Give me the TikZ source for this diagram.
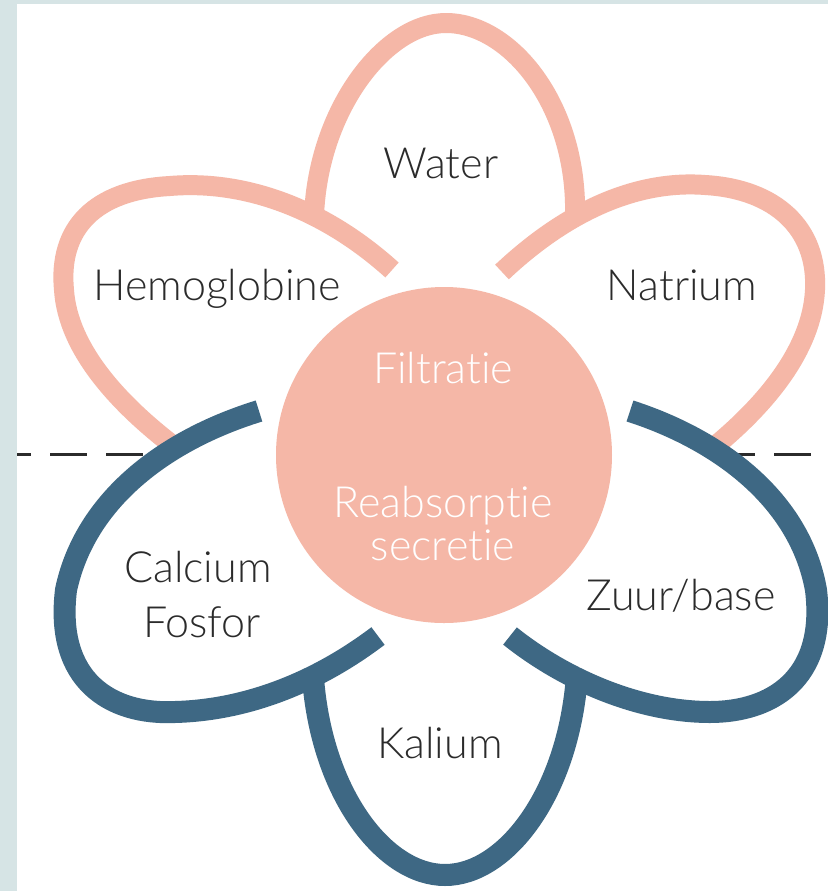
\documentclass[tikz,border=0pt]{standalone}
\usepackage{fontspec}
\setmainfont{Lato}[UprightFont=* Light]
\definecolor{petalpink}{HTML}{F5B7A7}
\definecolor{petalblue}{HTML}{3E6884}
\definecolor{frameblue}{HTML}{D6E4E5}
\definecolor{labelgray}{HTML}{2B2B2B}

\begin{document}
\begin{tikzpicture}[x=0.5pt,y=-0.5pt,
  font=\fontsize{21.5}{25}\selectfont,
  toppetal/.style={draw=petalpink,line width=10pt},
  lowpetal/.style={draw=petalblue,line width=11pt},
  lbl/.style={text=labelgray,anchor=base,inner sep=0pt},
  core/.style={text=white,anchor=base,inner sep=0pt},
  divider/.style={draw=labelgray,line width=1.5pt,dash pattern=on 18.5pt off 9.5pt},
]
\useasboundingbox (0,0) rectangle (828,891);
\fill[frameblue] (0,0) rectangle (828,891);
\fill[white] (17,4) rectangle (828,891);

% ---- dividing line (filtratie above, reabsorptie below) ----------------
\coordinate (DLa) at (17,454);
\coordinate (DLb) at (166,454);
\coordinate (DRa) at (718,454);
\coordinate (DRb) at (828,454);
\draw[divider,dash phase=11.5pt] (DLa) -- (DLb);
\draw[divider] (DRa) -- (DRb);

% ---- upper petals ------------------------------------------------------
\draw[toppetal] (392,270) .. controls (320,205) and (240,180) .. (170,186)
   .. controls (95,190) and (58,228) .. (64,290)
   .. controls (68,350) and (120,405) .. (175,447);
\draw[toppetal] (502,272) .. controls (570,208) and (640,180) .. (705,185)
   .. controls (775,189) and (818,228) .. (815,290)
   .. controls (812,350) and (765,405) .. (714,447);
\draw[toppetal] (314,216) .. controls (318,110) and (385,23) .. (446,23)
   .. controls (510,23) and (578,105) .. (575,217);

% ---- lower petals ------------------------------------------------------
\draw[lowpetal] (259,411) .. controls (165,440) and (85,500) .. (66,590)
   .. controls (55,680) and (110,715) .. (175,712)
   .. controls (250,710) and (320,680) .. (378,636);
\draw[lowpetal] (630,411) .. controls (720,440) and (800,500) .. (816,590)
   .. controls (827,680) and (770,712) .. (710,712)
   .. controls (640,712) and (565,680) .. (510,636);
\draw[lowpetal] (313,678) .. controls (322,795) and (385,875) .. (445,875)
   .. controls (505,875) and (568,795) .. (577,676);

% ---- centre ------------------------------------------------------------
\node[circle,fill=petalpink,minimum size=168pt,inner sep=0pt] (hub) at (444,455) {};
\node[core] (filt) at (443,383) {Filtrat\kern0pt ie};
\node[core] (reab) at (443,517) {Reabsorpt\kern0pt ie};
\node[core] (secr) at (443,560) {secret\kern0pt ie};

% ---- petal labels ------------------------------------------------------
\node[lbl] (water) at (441,178) {Water};
\node[lbl] (hemo) at (217,300) {Hemoglobine};
\node[lbl] (natr) at (682,300) {Natrium};
\node[lbl] (calc) at (198,582) {Calcium};
\node[lbl] (fosf) at (202,637) {Fosfor};
\node[lbl] (zuur) at (681,610) {Zuur/base};
\node[lbl] (kali) at (440,758) {Kalium};
\end{tikzpicture}
\end{document}
